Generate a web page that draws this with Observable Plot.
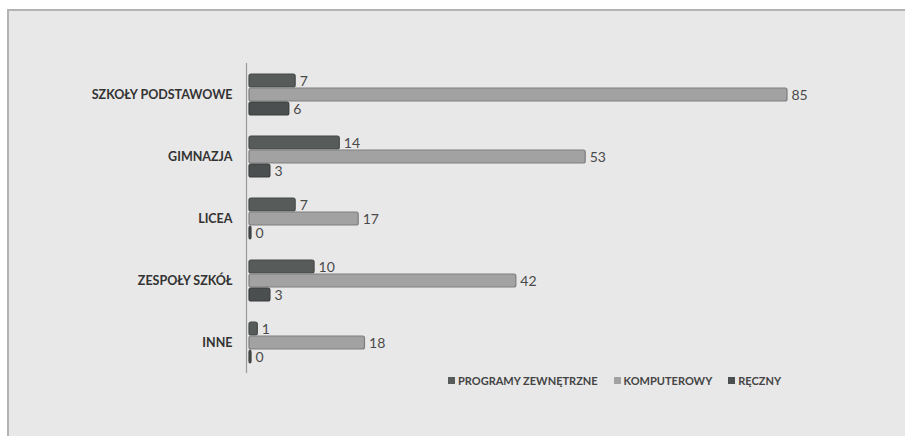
<!DOCTYPE html>
<html>
<head>
<meta charset="utf-8">
<script src="https://cdn.jsdelivr.net/npm/d3@7"></script>
<script src="https://cdn.jsdelivr.net/npm/@observablehq/plot@0.6"></script>
<style>
  html, body { margin: 0; padding: 0; background: #ffffff; }
  #frame { position: absolute; left: 7px; top: 9px; width: 898px; height: 427px;
           background: #e8e8e8; border-left: 2px solid #b3b3b3; border-top: 2px solid #b3b3b3; box-sizing: border-box; }
  #chart { position: absolute; left: 0; top: 0; }
  #legend { position: absolute; left: 448px; top: 374px; display: flex; gap: 16px;
            font-family: Lato, "Open Sans", sans-serif; font-weight: bold; font-size: 11px; color: #444; }
  #legend .item { display: flex; align-items: center; gap: 3px; }
  #legend .sw { width: 7px; height: 7px; display: inline-block; }
</style>
</head>
<body>
<div id="frame"></div>
<div id="chart"></div>
<div id="legend"></div>
<script>
const categories = ["SZKOŁY PODSTAWOWE", "GIMNAZJA", "LICEA", "ZESPOŁY SZKÓŁ", "INNE"];
const series = ["PROGRAMY ZEWNĘTRZNE", "KOMPUTEROWY", "RĘCZNY"];
const programyZewnetrzne = [7, 14, 7, 10, 1];
const komputerowy = [85, 53, 17, 42, 18];
const reczny = [6, 3, 0, 3, 0];
const colors = ["#575c5b", "#a2a2a2", "#4b4f4f"];
const strokes = ["#454948", "#7e7e7e", "#3a3d3d"];

const values = [programyZewnetrzne, komputerowy, reczny];
const data = [];
categories.forEach((c, i) => {
  series.forEach((s, j) => data.push({category: c, series: s, value: values[j][i]}));
});

const chart = Plot.plot({
  width: 905,
  height: 400,
  marginLeft: 249,
  marginRight: 120,
  marginTop: 63,
  marginBottom: 27,
  style: {background: "transparent", fontFamily: "Lato, 'Open Sans', sans-serif"},
  x: {domain: [0, 85], axis: null},
  y: {domain: series, axis: null, paddingInner: 0.08, paddingOuter: 0.72},
  fy: {domain: categories, padding: 0, label: null},
  color: {domain: series, range: colors},
  marks: [
    Plot.axisFy({anchor: "left", tickSize: 0, tickPadding: 17, label: null, fontWeight: "bold", fontSize: 12.5, fill: "#333"}),
    Plot.ruleX([0], {dx: -3, stroke: "#9a9a9a", strokeWidth: 1.2}),
    Plot.barX(data, {
      x: "value", y: "series", fy: "category", fill: "series",
      stroke: d => strokes[series.indexOf(d.series)], strokeWidth: 1.2, rx: 2, insetRight: -2
    }),
    Plot.text(data, {
      x: "value", y: "series", fy: "category", text: d => String(d.value),
      textAnchor: "start", dx: 6, dy: 1, fontSize: 14, fill: "#4a4a4a"
    })
  ]
});
document.getElementById("chart").appendChild(chart);

const legend = document.getElementById("legend");
series.forEach((s, j) => {
  const item = document.createElement("span");
  item.className = "item";
  const sw = document.createElement("span");
  sw.className = "sw";
  sw.style.background = colors[j];
  item.appendChild(sw);
  item.appendChild(document.createTextNode(s));
  legend.appendChild(item);
});
</script>
</body>
</html>
